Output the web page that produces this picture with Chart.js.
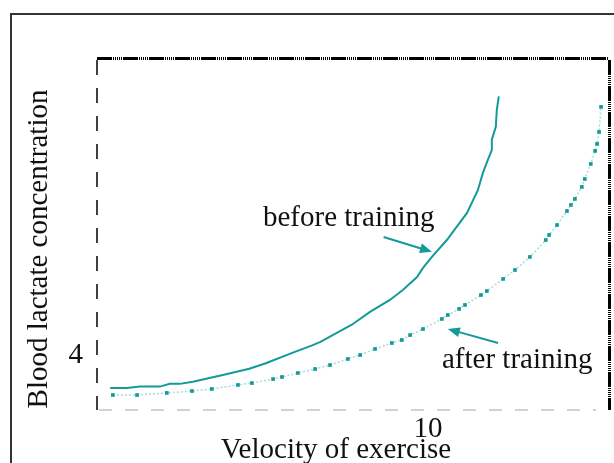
<!DOCTYPE html>
<html>
<head>
<meta charset="utf-8">
<script src="https://cdn.jsdelivr.net/npm/chart.js@4"></script>
<style>
  body { margin: 0; background: #fff; }
  #wrap { width: 614px; height: 463px; }
</style>
</head>
<body>
<div id="wrap"><canvas id="lactate"></canvas></div>
<script>
// data (velocity, lactate)
const beforeX = [0.4, 0.9, 1.3, 1.9, 2.2, 2.5, 2.9, 3.9, 4.6, 5.1, 5.9, 6.5, 6.75, 7.7, 8.25, 8.85, 9.24, 9.67, 9.85, 10.12, 10.57, 11.18, 11.51, 11.66, 11.81, 11.93, 11.93, 12.05, 12.08, 12.14];
const beforeY = [1.6, 1.6, 1.7, 1.7, 1.9, 1.9, 2.05, 2.6, 3.0, 3.4, 4.15, 4.7, 4.95, 6.2, 7.13, 8.0, 8.73, 9.67, 10.33, 11.13, 12.36, 14.33, 16.0, 17.24, 18.18, 18.9, 19.65, 20.6, 21.8, 22.8];
const afterX = [0.48, 1.21, 2.11, 2.87, 3.47, 4.26, 4.68, 5.32, 5.59, 6.07, 6.59, 7.04, 7.58, 7.95, 8.4, 8.91, 9.21, 9.46, 9.85, 10.42, 10.6, 10.94, 11.12, 11.6, 11.78, 12.27, 12.63, 13.08, 13.56, 13.66, 13.9, 14.2, 14.32, 14.44, 14.65, 14.74, 14.92, 15.05, 15.11, 15.17, 15.23];
const afterY = [1.09, 1.09, 1.24, 1.38, 1.53, 1.82, 1.96, 2.25, 2.4, 2.69, 2.98, 3.27, 3.71, 4.0, 4.44, 4.87, 5.09, 5.45, 5.89, 6.62, 6.91, 7.35, 7.64, 8.36, 8.65, 9.53, 10.18, 11.13, 12.36, 12.73, 13.45, 14.47, 14.91, 15.35, 16.22, 16.8, 17.89, 18.84, 19.35, 20.22, 22.04];
const xTicks = [10];
const yTicks = [4];

const teal = '#129b97';
const serif = 'Liberation Serif';

const toPoints = (xs, ys) => xs.map((x, i) => ({ x: x, y: ys[i] }));

// frame, labels, arrows and axis titles
const decor = {
  id: 'decor',
  afterDraw(chart) {
    const ctx = chart.ctx;
    const a = chart.chartArea;
    const xs = chart.scales.x, ys = chart.scales.y;
    ctx.save();

    // outer box
    ctx.strokeStyle = '#333';
    ctx.lineWidth = 2;
    ctx.strokeRect(11, 14, 700, 600);

    // bottom axis: light grey dashes
    ctx.strokeStyle = '#c4c4c4';
    ctx.lineWidth = 1.5;
    ctx.setLineDash([13, 13]);
    ctx.beginPath();
    ctx.moveTo(a.left + 2, a.bottom);
    ctx.lineTo(a.right - 12, a.bottom);
    ctx.stroke();

    // left axis: black dashes
    ctx.strokeStyle = '#000';
    ctx.lineWidth = 1.5;
    ctx.setLineDash([15, 13]);
    ctx.beginPath();
    ctx.moveTo(a.left, a.top);
    ctx.lineTo(a.left, a.bottom);
    ctx.stroke();
    ctx.setLineDash([]);

    // top and right borders: bold dash then fine stripes
    ctx.fillStyle = '#000';
    for (let x = a.left; x < a.right; x += 26) {
      ctx.fillRect(x, a.top - 3, Math.min(15, a.right - x), 3);
      for (let k = 0; k < 5; k++) {
        const sx = x + 16 + k * 2;
        if (sx < a.right) ctx.fillRect(sx, a.top - 3, 1, 3);
      }
    }
    for (let y = a.top; y < a.bottom; y += 26) {
      ctx.fillRect(a.right, y, 3, Math.min(15, a.bottom - y));
      for (let k = 0; k < 5; k++) {
        const sy = y + 16 + k * 2;
        if (sy < a.bottom) ctx.fillRect(a.right, sy, 3, 1);
      }
    }

    // arrows
    const arrow = (x1, y1, x2, y2) => {
      const ang = Math.atan2(y2 - y1, x2 - x1);
      ctx.strokeStyle = teal;
      ctx.fillStyle = teal;
      ctx.lineWidth = 2;
      ctx.beginPath();
      ctx.moveTo(x1, y1);
      ctx.lineTo(x2 - 8 * Math.cos(ang), y2 - 8 * Math.sin(ang));
      ctx.stroke();
      ctx.beginPath();
      ctx.moveTo(x2, y2);
      ctx.lineTo(x2 - 12 * Math.cos(ang) + 5 * Math.sin(ang), y2 - 12 * Math.sin(ang) - 5 * Math.cos(ang));
      ctx.lineTo(x2 - 12 * Math.cos(ang) - 5 * Math.sin(ang), y2 - 12 * Math.sin(ang) + 5 * Math.cos(ang));
      ctx.closePath();
      ctx.fill();
    };
    arrow(xs.getPixelForValue(8.66), ys.getPixelForValue(12.58), xs.getPixelForValue(10.12), ys.getPixelForValue(11.5));
    arrow(xs.getPixelForValue(12.12), ys.getPixelForValue(4.87), xs.getPixelForValue(10.6), ys.getPixelForValue(5.89));

    // curve labels
    ctx.fillStyle = '#111';
    ctx.font = '29px "' + serif + '"';
    ctx.textBaseline = 'alphabetic';
    ctx.textAlign = 'left';
    ctx.fillText('before training', 263, 226);
    ctx.fillText('after training', 442, 368);

    // axis titles
    ctx.textAlign = 'center';
    ctx.fillText('Velocity of exercise', 336, 458);
    ctx.translate(47, 249);
    ctx.rotate(-Math.PI / 2);
    ctx.fillText('Blood lactate concentration', 0, 0);
    ctx.restore();
  }
};

new Chart(document.getElementById('lactate'), {
  type: 'line',
  data: {
    datasets: [{
      label: 'before training',
      data: toPoints(beforeX, beforeY),
      borderColor: teal,
      borderWidth: 2,
      pointRadius: 0,
      tension: 0
    }, {
      label: 'after training',
      data: toPoints(afterX, afterY),
      borderColor: '#a6dcd9',
      borderWidth: 1.5,
      borderDash: [2, 2],
      pointStyle: 'rect',
      pointRadius: 2.6,
      pointBackgroundColor: teal,
      pointBorderWidth: 0,
      tension: 0
    }]
  },
  options: {
    responsive: true,
    maintainAspectRatio: false,
    animation: false,
    layout: { padding: { top: 60, right: 6, left: 0, bottom: 0 } },
    plugins: { legend: { display: false }, tooltip: { enabled: false } },
    scales: {
      x: {
        type: 'linear',
        min: 0,
        max: 15.44,
        afterBuildTicks: s => { s.ticks = xTicks.map(v => ({ value: v })); },
        afterFit: s => { s.height = 53; },
        grid: { display: false },
        border: { display: false },
        ticks: { color: '#111', font: { family: serif, size: 29 }, padding: -6, maxRotation: 0 }
      },
      y: {
        type: 'linear',
        min: 0,
        max: 25.45,
        afterBuildTicks: s => { s.ticks = yTicks.map(v => ({ value: v })); },
        afterFit: s => { s.width = 97; },
        grid: { display: false },
        border: { display: false },
        ticks: { color: '#111', font: { family: serif, size: 29 }, padding: 6 }
      }
    }
  },
  plugins: [decor]
});
</script>
</body>
</html>
